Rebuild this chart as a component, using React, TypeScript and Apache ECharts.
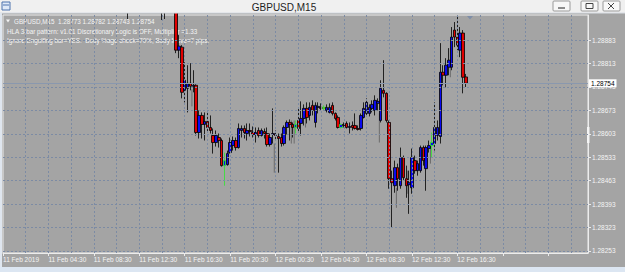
import React, { useEffect, useRef } from 'react';
import * as echarts from 'echarts';

const windowTitle = 'GBPUSD,M15';
const headerLines = [
  'GBPUSD,M15  1.28773 1.28782 1.28743 1.28754',
  'HLA 3-bar pattern: v1.01 Discretionary Logic is OFF, Multiplier =1.33',
  'Ignore Engulfing bar=YES.  Body %age check=70%, Body Move=7 pips.',
];
const timeLabels = [
  '11 Feb 2019', '11 Feb 04:30', '11 Feb 08:30', '11 Feb 12:30', '11 Feb 16:30',
  '11 Feb 20:30', '12 Feb 00:30', '12 Feb 04:30', '12 Feb 08:30', '12 Feb 12:30', '12 Feb 16:30',
];
const priceTicks = [1.28253, 1.28323, 1.28393, 1.28463, 1.28533, 1.28603, 1.28673, 1.28743, 1.28813, 1.28883];
const priceMin = 1.28247;
const priceMax = 1.28958;
const lastPrice = 1.28754;
const barSlots = 207; // M15 slots visible on the time axis
const barsPerLabel = 16;
const barsPerGrid = 8;

// [bar slot, open, close, low, high]
const candles = [
  [44, 1.28979, 1.28967, 1.28946, 1.28991],
  [56, 1.28979, 1.28967, 1.28943, 1.28991],
  [57, 1.28967, 1.28973, 1.28946, 1.28988],
  [61, 1.28973, 1.28853, 1.28844, 1.28988],
  [62, 1.28853, 1.28865, 1.28829, 1.28898],
  [63, 1.28862, 1.28727, 1.28709, 1.28868],
  [64, 1.28733, 1.28763, 1.28697, 1.28817],
  [65, 1.28739, 1.28754, 1.28667, 1.28808],
  [66, 1.28754, 1.28745, 1.28733, 1.28814],
  [67, 1.28745, 1.28748, 1.28727, 1.28793],
  [68, 1.28748, 1.28607, 1.28598, 1.28751],
  [69, 1.28607, 1.28658, 1.28589, 1.28673],
  [70, 1.28658, 1.28631, 1.28589, 1.28667],
  [71, 1.28631, 1.28640, 1.28583, 1.28667],
  [72, 1.28640, 1.28622, 1.28607, 1.28673],
  [73, 1.28622, 1.28613, 1.28604, 1.28658],
  [74, 1.28598, 1.28577, 1.28544, 1.28619],
  [75, 1.28577, 1.28598, 1.28565, 1.28613],
  [76, 1.28592, 1.28583, 1.28562, 1.28604],
  [77, 1.28583, 1.28508, 1.28505, 1.28589],
  [78, 1.28508, 1.28523, 1.28448, 1.28547],
  [79, 1.28511, 1.28544, 1.28508, 1.28553],
  [80, 1.28547, 1.28577, 1.28544, 1.28592],
  [81, 1.28568, 1.28583, 1.28553, 1.28595],
  [82, 1.28583, 1.28562, 1.28553, 1.28592],
  [83, 1.28562, 1.28619, 1.28559, 1.28634],
  [84, 1.28613, 1.28619, 1.28592, 1.28628],
  [85, 1.28619, 1.28607, 1.28589, 1.28628],
  [86, 1.28604, 1.28613, 1.28583, 1.28634],
  [87, 1.28613, 1.28610, 1.28595, 1.28634],
  [88, 1.28607, 1.28601, 1.28592, 1.28625],
  [89, 1.28601, 1.28607, 1.28577, 1.28622],
  [90, 1.28613, 1.28598, 1.28592, 1.28622],
  [91, 1.28598, 1.28613, 1.28595, 1.28619],
  [92, 1.28610, 1.28604, 1.28589, 1.28619],
  [93, 1.28604, 1.28571, 1.28565, 1.28622],
  [94, 1.28571, 1.28592, 1.28565, 1.28604],
  [95, 1.28601, 1.28604, 1.28574, 1.28679],
  [96, 1.28601, 1.28598, 1.28583, 1.28613],
  [97, 1.28595, 1.28589, 1.28487, 1.28604],
  [98, 1.28592, 1.28574, 1.28565, 1.28604],
  [99, 1.28574, 1.28622, 1.28568, 1.28628],
  [100, 1.28622, 1.28637, 1.28601, 1.28643],
  [101, 1.28637, 1.28631, 1.28583, 1.28646],
  [102, 1.28631, 1.28622, 1.28592, 1.28637],
  [103, 1.28622, 1.28631, 1.28604, 1.28643],
  [104, 1.28643, 1.28619, 1.28607, 1.28682],
  [105, 1.28634, 1.28649, 1.28598, 1.28700],
  [106, 1.28649, 1.28679, 1.28628, 1.28691],
  [107, 1.28679, 1.28652, 1.28634, 1.28697],
  [108, 1.28658, 1.28682, 1.28643, 1.28697],
  [109, 1.28688, 1.28673, 1.28658, 1.28703],
  [110, 1.28637, 1.28688, 1.28622, 1.28697],
  [111, 1.28682, 1.28685, 1.28664, 1.28697],
  [112, 1.28682, 1.28679, 1.28673, 1.28694],
  [113, 1.28682, 1.28679, 1.28673, 1.28688],
  [114, 1.28673, 1.28682, 1.28667, 1.28691],
  [115, 1.28667, 1.28682, 1.28664, 1.28694],
  [116, 1.28688, 1.28664, 1.28658, 1.28697],
  [117, 1.28664, 1.28649, 1.28643, 1.28667],
  [118, 1.28652, 1.28622, 1.28619, 1.28658],
  [119, 1.28622, 1.28631, 1.28619, 1.28634],
  [120, 1.28631, 1.28628, 1.28622, 1.28637],
  [121, 1.28634, 1.28622, 1.28619, 1.28640],
  [122, 1.28622, 1.28625, 1.28604, 1.28637],
  [123, 1.28628, 1.28622, 1.28613, 1.28640],
  [124, 1.28628, 1.28619, 1.28616, 1.28664],
  [125, 1.28619, 1.28616, 1.28613, 1.28628],
  [126, 1.28619, 1.28658, 1.28613, 1.28664],
  [127, 1.28652, 1.28679, 1.28649, 1.28697],
  [128, 1.28664, 1.28697, 1.28655, 1.28709],
  [129, 1.28664, 1.28682, 1.28655, 1.28691],
  [130, 1.28679, 1.28691, 1.28667, 1.28703],
  [131, 1.28673, 1.28703, 1.28658, 1.28718],
  [132, 1.28694, 1.28700, 1.28673, 1.28709],
  [133, 1.28643, 1.28739, 1.28637, 1.28763],
  [134, 1.28733, 1.28724, 1.28712, 1.28823],
  [135, 1.28724, 1.28643, 1.28637, 1.28727],
  [136, 1.28637, 1.28469, 1.28439, 1.28643],
  [137, 1.28469, 1.28457, 1.28322, 1.28493],
  [138, 1.28448, 1.28502, 1.28427, 1.28523],
  [139, 1.28502, 1.28469, 1.28433, 1.28514],
  [140, 1.28448, 1.28532, 1.28439, 1.28562],
  [141, 1.28532, 1.28472, 1.28463, 1.28538],
  [142, 1.28469, 1.28448, 1.28412, 1.28508],
  [143, 1.28451, 1.28457, 1.28364, 1.28493],
  [144, 1.28442, 1.28532, 1.28424, 1.28559],
  [145, 1.28523, 1.28493, 1.28484, 1.28538],
  [146, 1.28493, 1.28514, 1.28478, 1.28523],
  [147, 1.28493, 1.28562, 1.28487, 1.28568],
  [148, 1.28562, 1.28523, 1.28508, 1.28568],
  [149, 1.28499, 1.28562, 1.28433, 1.28568],
  [150, 1.28559, 1.28568, 1.28547, 1.28583],
  [151, 1.28568, 1.28577, 1.28532, 1.28607],
  [152, 1.28574, 1.28622, 1.28553, 1.28697],
  [153, 1.28598, 1.28622, 1.28583, 1.28643],
  [154, 1.28595, 1.28787, 1.28574, 1.28874],
  [155, 1.28787, 1.28778, 1.28748, 1.28808],
  [156, 1.28778, 1.28808, 1.28742, 1.28829],
  [157, 1.28802, 1.28823, 1.28778, 1.28859],
  [158, 1.28802, 1.28892, 1.28793, 1.28922],
  [159, 1.28913, 1.28892, 1.28862, 1.28937],
  [160, 1.28892, 1.28868, 1.28853, 1.28955],
  [161, 1.28853, 1.28904, 1.28832, 1.28922],
  [162, 1.28904, 1.28772, 1.28724, 1.28913],
  [163, 1.28773, 1.28754, 1.28743, 1.28782],
];

// bars whose range the indicator paints green
const signalBars = [78, 103, 113, 119, 151];

// grey indicator shadows: [bar slot, low, high]
const shadows = [
  [66, 1.28685, 1.28736],
  [95, 1.28487, 1.28574],
  [101, 1.28574, 1.28643],
  [102, 1.28574, 1.28643],
  [106, 1.28622, 1.28667],
  [126, 1.28622, 1.28658],
  [132, 1.28577, 1.28664],
  [138, 1.28382, 1.28442],
  [142, 1.28424, 1.28493],
  [150, 1.28514, 1.28574],
  [157, 1.28772, 1.28859],
];

const GRID_COLOR = '#7c8ba4';
const TEXT_COLOR = '#f4f4f4';
const FONT = 'Liberation Sans, Arial, sans-serif';

export default function App() {
  const ref = useRef<HTMLDivElement>(null);

  useEffect(() => {
    if (!ref.current) return;
    const chart = echarts.init(ref.current, undefined, { renderer: 'svg' });

    const categories = Array.from({ length: barSlots }, (_, i) => String(i));
    const candleData = candles.map((c) =>
      signalBars.includes(c[0])
        ? { value: c, itemStyle: { borderColor: '#2ee82e', borderColor0: '#2ee82e' } }
        : c
    );

    const gridStyle = { color: GRID_COLOR, type: [2, 2], width: 1 };
    const verticalGrid: any[] = [];
    for (let i = barsPerGrid; i < barSlots - 1; i += barsPerGrid) {
      verticalGrid.push({ xAxis: i, lineStyle: gridStyle });
    }
    const horizontalGrid = priceTicks.map((v) => ({ yAxis: v, lineStyle: gridStyle }));

    const btn = (x: number) => ({
      type: 'rect',
      shape: { x, y: 1, width: 17, height: 10, r: 1 },
      style: { fill: '#f7f7f7', stroke: '#9a9a9a', lineWidth: 1 },
      z: 10,
    });

    chart.setOption({
      animation: false,
      backgroundColor: '#a4a4a4',
      grid: {
        left: 3,
        right: 37,
        top: 15,
        bottom: 19,
        show: true,
        borderColor: '#ececec',
        borderWidth: 1,
        backgroundColor: 'transparent',
      },
      xAxis: {
        type: 'category',
        data: categories,
        boundaryGap: false,
        axisLine: { show: true, lineStyle: { color: '#ececec' } },
        axisTick: {
          show: true,
          length: 3,
          interval: (i: number) => i % barsPerLabel === 0,
          lineStyle: { color: '#ececec' },
        },
        axisLabel: {
          interval: (i: number) => i % barsPerLabel === 0,
          formatter: (_v: string, i: number) => timeLabels[i / barsPerLabel] || '',
          align: 'left',
          color: TEXT_COLOR,
          fontSize: 6.5,
          fontFamily: FONT,
          margin: 3,
        },
        splitLine: { show: false },
      },
      yAxis: {
        type: 'value',
        position: 'right',
        min: priceMin,
        max: priceMax,
        scale: true,
        axisLine: { show: true, lineStyle: { color: '#ececec' } },
        axisTick: {
          show: true,
          length: 3,
          customValues: priceTicks,
          lineStyle: { color: '#ececec' },
        },
        axisLabel: {
          customValues: priceTicks,
          formatter: (v: number) => v.toFixed(5),
          color: TEXT_COLOR,
          fontSize: 6.5,
          fontFamily: FONT,
          margin: 4,
        },
        splitLine: { show: false },
      },
      series: [
        {
          type: 'custom',
          encode: { x: 0, y: [1, 2] },
          data: shadows,
          z: 1,
          clip: true,
          renderItem: (_p: any, api: any) => {
            const a = api.coord([api.value(0), api.value(1)]);
            const b = api.coord([api.value(0), api.value(2)]);
            return {
              type: 'line',
              shape: { x1: a[0] + 1.5, y1: a[1], x2: a[0] + 1.5, y2: b[1] },
              style: { stroke: '#6c6c6c', lineWidth: 1 },
            };
          },
          markLine: {
            silent: true,
            symbol: 'none',
            precision: 5,
            label: { show: false },
            data: [
              ...horizontalGrid,
              ...verticalGrid,
              {
                yAxis: lastPrice,
                lineStyle: { color: '#8a98ae', type: 'solid', width: 1 },
                label: {
                  show: true,
                  position: 'end',
                  formatter: lastPrice.toFixed(5),
                  backgroundColor: '#ffffff',
                  color: '#000000',
                  fontSize: 6.5,
                  fontFamily: FONT,
                  padding: [1, 2, 0, 2],
                  distance: 1,
                },
              },
            ],
          },
        },
        {
          type: 'candlestick',
          encode: { x: 0, y: [1, 2, 3, 4] },
          data: candleData,
          barWidth: 3,
          clip: true,
          z: 4,
          itemStyle: {
            color: '#0a0aee',
            color0: '#e00000',
            borderColor: '#000000',
            borderColor0: '#000000',
            borderWidth: 0.8,
          },
        },
      ],
      graphic: [
        // window title bar
        { type: 'rect', shape: { x: 0, y: 0, width: 625, height: 13 }, style: { fill: '#f0f0f0' }, z: 9 },
        { type: 'line', shape: { x1: 0, y1: 13, x2: 625, y2: 13 }, style: { stroke: '#d8dde4', lineWidth: 1 }, z: 9 },
        { type: 'rect', shape: { x: 2, y: 2, width: 8, height: 8 }, style: { fill: '#dfe9f7', stroke: '#4d73ad', lineWidth: 1 }, z: 10 },
        { type: 'line', shape: { x1: 3, y1: 5, x2: 9, y2: 5 }, style: { stroke: '#4d73ad', lineWidth: 1 }, z: 10 },
        {
          type: 'text',
          x: 284,
          y: 7,
          style: { text: windowTitle, fill: '#1e1e1e', fontSize: 10, fontFamily: FONT, align: 'center', verticalAlign: 'middle' },
          z: 10,
        },
        btn(553),
        btn(581),
        btn(603),
        { type: 'line', shape: { x1: 558, y1: 8, x2: 565, y2: 8 }, style: { stroke: '#444', lineWidth: 1.2 }, z: 11 },
        { type: 'rect', shape: { x: 586, y: 3.5, width: 7, height: 5 }, style: { fill: 'none', stroke: '#444', lineWidth: 1 }, z: 11 },
        { type: 'line', shape: { x1: 608, y1: 3, x2: 614, y2: 9 }, style: { stroke: '#444', lineWidth: 1 }, z: 11 },
        { type: 'line', shape: { x1: 614, y1: 3, x2: 608, y2: 9 }, style: { stroke: '#444', lineWidth: 1 }, z: 11 },
        // window frame strips
        { type: 'rect', shape: { x: 0, y: 13, width: 2, height: 259 }, style: { fill: '#dfe6ef' }, z: 9 },
        { type: 'rect', shape: { x: 0, y: 267, width: 625, height: 5 }, style: { fill: '#dce6f2' }, z: 9 },
        // chart header texts (above grid lines, below candles)
        { type: 'polygon', shape: { points: [[6, 19.5], [10, 19.5], [8, 22.5]] }, style: { fill: '#f4f4f4' }, z: 3 },
        {
          type: 'text', x: 14, y: 21,
          style: { text: headerLines[0], fill: TEXT_COLOR, fontSize: 6.3, fontFamily: FONT, verticalAlign: 'middle' },
          z: 3,
        },
        {
          type: 'text', x: 7, y: 31,
          style: { text: headerLines[1], fill: TEXT_COLOR, fontSize: 6.3, fontFamily: FONT, verticalAlign: 'middle' },
          z: 3,
        },
        {
          type: 'text', x: 7, y: 40,
          style: { text: headerLines[2], fill: TEXT_COLOR, fontSize: 6.3, fontFamily: FONT, verticalAlign: 'middle' },
          z: 3,
        },
        // chart-shift marker and scroll handle
        { type: 'polygon', shape: { points: [[467, 16], [473, 16], [470, 19.5]] }, style: { fill: '#7f8ea8' }, z: 5 },
        { type: 'rect', shape: { x: 587, y: 127, width: 2.5, height: 16 }, style: { fill: '#f4f4f4' }, z: 5 },
      ],
    });

    return () => chart.dispose();
  }, []);

  return (
    <div
      ref={ref}
      style={{ position: 'fixed', left: 0, top: 0, width: 625, height: 272 }}
    />
  );
}
